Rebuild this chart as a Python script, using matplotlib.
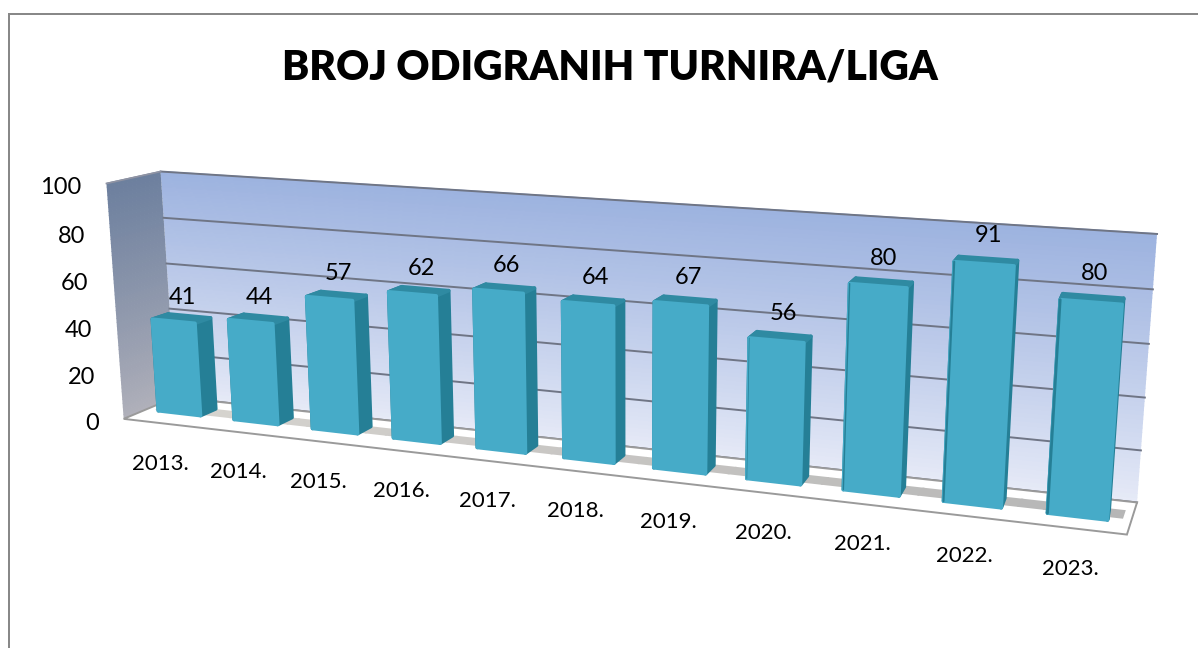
import numpy as np
import matplotlib
matplotlib.use("Agg")
import matplotlib.pyplot as plt
from matplotlib.patches import Polygon
from matplotlib.transforms import Transform

TITLE = "BROJ ODIGRANIH TURNIRA/LIGA"
years = ["2013.", "2014.", "2015.", "2016.", "2017.", "2018.", "2019.", "2020.", "2021.", "2022.", "2023."]
values = [41, 44, 57, 62, 66, 64, 67, 56, 80, 91, 80]
y_ticks = [0, 20, 40, 60, 80, 100]

plt.rcParams['font.family'] = ['Lato', 'DejaVu Sans']
W, H = 1198, 648
N = len(years)
VMAX = 100
BAR = 0.56
D0, D1 = 0.0, 1.0


def fit_camera(world, pix):
    """Least-squares homography from world (slot, value, depth) to pixels."""
    world = np.asarray(world, float) / [N, VMAX, 1]
    pix = np.asarray(pix, float) / 1000
    A = []
    for (a, b, c), (u, t) in zip(world, pix):
        A.append([a, b, c, 1, 0, 0, 0, 0, -u*a, -u*b, -u*c, -u])
        A.append([0, 0, 0, 0, a, b, c, 1, -t*a, -t*b, -t*c, -t])
    M = np.linalg.svd(np.array(A))[2][-1].reshape(3, 4)
    return np.diag([1000, 1000, 1.0]) @ M @ np.diag([1 / N, 1 / VMAX, 1, 1])


# camera of the walls and floor
WALLS = fit_camera(
    [[0, 100, 0], [0, 0, 0], [N, 0, 0], [0, 100, 1], [0, 0, 1], [N, 100, 1], [N, 0, 1]],
    [[106, 184], [124, 418], [1127, 535], [161, 171], [175, 398], [1157, 234], [1137, 502]])

# camera of the bars (depth 0 = bar front, depth 1 = bar back)
L, R = .5 - BAR / 2, .5 + BAR / 2
BARS = fit_camera(
    [[L, 0, 0], [R, 0, 0], [L, 41, 0], [R, 41, 0],
     [5 + L, 0, 0], [5 + R, 0, 0], [5 + L, 64, 0], [5 + R, 64, 0],
     [7 + L, 0, 0], [7 + R, 0, 0], [7 + L, 56, 0], [7 + R, 56, 0],
     [10 + L, 0, 0], [10 + R, 0, 0], [10 + L, 80, 0], [10 + R, 80, 0],
     [R, 0, 1], [R, 41, 1], [L, 41, 1],
     [5 + R, 0, 1], [5 + R, 64, 1],
     [7 + R, 0, 1], [7 + R, 56, 1],
     [10 + R, 0, 1], [10 + R, 80, 1]],
    [[158, 410], [200, 416], [153, 321], [195, 323],
     [563, 458], [614, 463], [563, 303], [613, 305],
     [747, 479], [803, 485], [750, 338], [803, 339],
     [1047, 513], [1107, 520], [1060, 300], [1122, 305],
     [217, 407], [211, 319], [167, 314],
     [623, 453], [624, 300],
     [807, 479], [811, 337],
     [1109, 510], [1124, 298]])


class Plane(Transform):
    """Maps 2-D plane coordinates to pixels through a camera."""
    input_dims = output_dims = 2
    is_affine = False

    def __init__(self, kind, fixed, cam=WALLS):
        super().__init__()
        self.kind, self.fixed, self.cam = kind, fixed, cam

    def transform_non_affine(self, xy):
        xy = np.asarray(xy, float)
        a, b = xy[:, 0], xy[:, 1]
        f = np.full_like(a, self.fixed)
        pts = {"front": (a, b, f), "side": (f, b, a), "flat": (a, f, b)}[self.kind]
        h = self.cam @ np.vstack([*pts, np.ones_like(a)])
        return np.column_stack([h[0] / h[2], h[1] / h[2]])


fig = plt.figure(figsize=(W / 100, H / 100), dpi=100, facecolor="white")
ax = fig.add_axes([0, 0, 1, 1])
ax.set_xlim(0, W)
ax.set_ylim(H, 0)
ax.axis("off")


def face(kind, fixed, pts, cam=WALLS, **kw):
    kw.setdefault("lw", 0)
    p = Polygon(pts, closed=True, transform=Plane(kind, fixed, cam) + ax.transData, **kw)
    ax.add_patch(p)
    return p


def mix(c0, c1, t):
    to = matplotlib.colors.to_rgb
    return tuple(np.array(to(c0)) * (1 - t) + np.array(to(c1)) * t)


# chart border: top and left edges only
ax.plot([9, 9, 1198], [H, 14, 14], color="#888888", lw=1.44, zorder=1, solid_joinstyle="miter")

# back wall and left wall gradients
edges = np.linspace(0, VMAX, 61)
for v0, v1 in zip(edges[:-1], edges[1:]):
    t = v0 / VMAX
    face("front", 1, [(0, v0), (N, v0), (N, v1 + .3), (0, v1 + .3)],
         fc=mix("#e6eaf7", "#9cb2df", t ** 0.9), zorder=2)
    face("side", 0, [(0, v0), (1, v0), (1, v1 + .3), (0, v1 + .3)],
         fc=mix("#b0b0ba", "#6c7f9e", t ** 0.9), zorder=2)

# gridlines on the back wall
for v in y_ticks:
    ax.plot([0, N], [v, v], transform=Plane("front", 1) + ax.transData,
            color="#6f7585", lw=1.4, zorder=3)
ax.plot([0, 0], [0, 1], transform=Plane("flat", VMAX) + ax.transData,
        color="#8f93a3", lw=1.2, zorder=3)

# floor
face("flat", 0, [(0, 0), (N, 0), (N, 1), (0, 1)], fc="white", ec="#9a9a9a", lw=1.4, zorder=3)
shadow_edges = np.linspace(0.1, N - 0.1, 45)
for a, b in zip(shadow_edges[:-1], shadow_edges[1:]):
    face("flat", 0, [(a, 0.45), (b + .02, 0.45), (b + .02, 0.72), (a, 0.72)],
         fc=mix("#d8d5d0", "#b5b5b5", a / N), zorder=3)

# bars
FRONT, SIDE, TOP = "#46abc8", "#257f96", "#2f8aa2"
for i, v in enumerate(values):
    x0, x1 = i + L, i + R
    z = 4 + (N - i) * 0.001
    style = dict(cam=BARS, joinstyle="round", lw=2.6, zorder=z)
    face("side", x0, [(D0, 0), (D1, 0), (D1, v), (D0, v)], fc=SIDE, ec=SIDE, **style)
    face("side", x1, [(D0, 0), (D1, 0), (D1, v), (D0, v)], fc=SIDE, ec=SIDE, **style)
    face("flat", v, [(x0, D0), (x1, D0), (x1, D1), (x0, D1)], fc=TOP, ec=TOP, **style)
    face("front", D0, [(x0, 0), (x1, 0), (x1, v), (x0, v)], fc=FRONT, ec=FRONT, **style)
    # the left flank shows as a thin dark edge on the bars right of the view centre
    if i >= 7:
        ax.plot([x0, x0], [0, v], transform=Plane("front", D0, BARS) + ax.transData,
                color=SIDE, lw=0.5 * (i - 6), zorder=z, solid_capstyle="round")

# value labels
for i, v in enumerate(values):
    ax.annotate(str(v), (i + .5, v), xycoords=Plane("front", 0.5) + ax.transData,
                xytext=(1, 8), textcoords="offset points", ha="center", va="bottom",
                fontsize=17, color="#000000", zorder=6)

# category labels
for i, lab in enumerate(years):
    ax.annotate(lab, (i + .5, 0), xycoords=Plane("front", 0) + ax.transData,
                xytext=(-1, -29), textcoords="offset points", ha="center", va="center",
                fontsize=16, color="#000000", zorder=6)

# value-axis labels
for v in y_ticks:
    ax.annotate(str(v), (0, v), xycoords=Plane("front", 0) + ax.transData,
                xytext=(-18, -3), textcoords="offset points", ha="right", va="center",
                fontsize=17, color="#000000", zorder=6)

ax.text(609.5, 79, TITLE, ha="center", va="baseline", fontsize=29.3, fontweight="heavy",
        color="#000000", zorder=6)

fig.savefig("out.png", dpi=100)
